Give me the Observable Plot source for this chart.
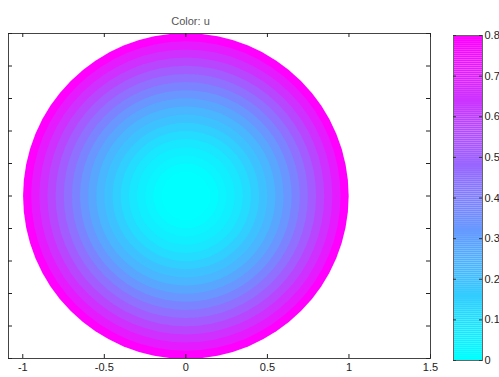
<!DOCTYPE html>
<html>
<head>
<meta charset="utf-8">
<script src="https://cdn.jsdelivr.net/npm/d3@7"></script>
<script src="https://cdn.jsdelivr.net/npm/@observablehq/plot@0.6"></script>
<style>
  body { margin: 0; background: #fff; overflow: hidden; }
  #wrap { position: relative; width: 499px; height: 377px; overflow: hidden; background: #fff; }
  #main { position: absolute; left: 0; top: 0; }
  #bar { position: absolute; left: 440px; top: 0; }
</style>
</head>
<body>
<div id="wrap"><div id="main"></div><div id="bar"></div></div>
<script>
// Radial profile of u over the unit disk
const ringRadius = [1.0, 0.95, 0.9, 0.85, 0.8, 0.75, 0.7, 0.65, 0.6, 0.55, 0.5, 0.45, 0.4, 0.35, 0.3, 0.25, 0.2, 0.15, 0.1, 0.05];
const ringU      = [0.80, 0.72, 0.65, 0.58, 0.51, 0.45, 0.39, 0.33, 0.28, 0.23, 0.19, 0.15, 0.11, 0.08, 0.05, 0.03, 0.01, 0.0, 0.0, 0.0];
const centerX = [0];
const centerY = [0];
const xTicks = [-1, -0.5, 0, 0.5, 1, 1.5];
const yTicks = [-1, -0.8, -0.6, -0.4, -0.2, 0, 0.2, 0.4, 0.6, 0.8, 1];
const barTicks = [0, 0.1, 0.2, 0.3, 0.4, 0.5, 0.6, 0.7, 0.8];
const uDomain = [0, 0.8];
const titleText = "Color: u";

const colorOpts = {type: "linear", domain: uDomain, range: ["#00ffff", "#ff00ff"], interpolate: "rgb"};
const font = {fontFamily: "'Liberation Sans', Arial, sans-serif", fontSize: "10px", background: "white", color: "#222"};

const rings = ringRadius.map((r, i) => ({cx: centerX[0], cy: centerY[0], r, u: ringU[i]}));

const W = 440, H = 377, mT = 33, mB = 19, mL = 8, mR = 10;
const innerH = H - mT - mB, innerW = W - mL - mR;

const main = Plot.plot({
  width: W, height: H,
  marginLeft: mL, marginRight: mR, marginTop: mT, marginBottom: mB,
  style: font,
  x: {domain: [-1.0875, 1.5], axis: null},
  y: {domain: [-1, 1], axis: null},
  r: {type: "linear", domain: [0, 1], range: [0, 162.8]},
  color: colorOpts,
  marks: [
    Plot.dot(rings, {x: "cx", y: "cy", r: "r", fill: "u", stroke: "none"}),
    Plot.frame({stroke: "#444", strokeWidth: 1}),
    Plot.tickX(xTicks, {x: d => d, insetTop: innerH - 4, stroke: "#222"}),
    Plot.tickX(xTicks, {x: d => d, insetBottom: innerH - 4, stroke: "#222"}),
    Plot.tickY(yTicks, {y: d => d, insetLeft: innerW - 4, stroke: "#222"}),
    Plot.tickY(yTicks, {y: d => d, insetRight: innerW - 4, stroke: "#222"}),
    Plot.axisX({ticks: xTicks, tickSize: 0, tickPadding: 5, tickFormat: d => String(d), label: null, fontSize: 11, fill: "#222"}),
    Plot.text([titleText], {frameAnchor: "top-left", dx: 182, dy: -16, textAnchor: "middle", fontSize: 11, fill: "#555"})
  ]
});
document.getElementById("main").appendChild(main);

// Colour bar
const step = 0.005;
const stops = d3.range(uDomain[0], uDomain[1], step);
const BW = 59, bT = 35, bB = 17, bL = 13, bR = 17;
const bInnerW = BW - bL - bR;
const bar = Plot.plot({
  width: BW, height: H,
  marginLeft: bL, marginRight: bR, marginTop: bT, marginBottom: bB,
  style: font,
  x: {domain: [0, 1], axis: null},
  y: {domain: uDomain, axis: null},
  color: colorOpts,
  marks: [
    Plot.rect(stops, {x1: 0, x2: 1, y1: d => d, y2: d => Math.min(d + step, uDomain[1]), fill: d => d + step / 2, stroke: null}),
    Plot.frame({stroke: "#666"}),
    Plot.tickY(barTicks, {y: d => d, insetRight: bInnerW - 3, stroke: "#333"}),
    Plot.tickY(barTicks, {y: d => d, insetLeft: bInnerW - 3, stroke: "#333"}),
    Plot.axisY({anchor: "right", ticks: barTicks, tickSize: 0, tickPadding: 2, tickFormat: d => String(d), label: null, fontSize: 11, fill: "#222"})
  ]
});
document.getElementById("bar").appendChild(bar);
</script>
</body>
</html>
